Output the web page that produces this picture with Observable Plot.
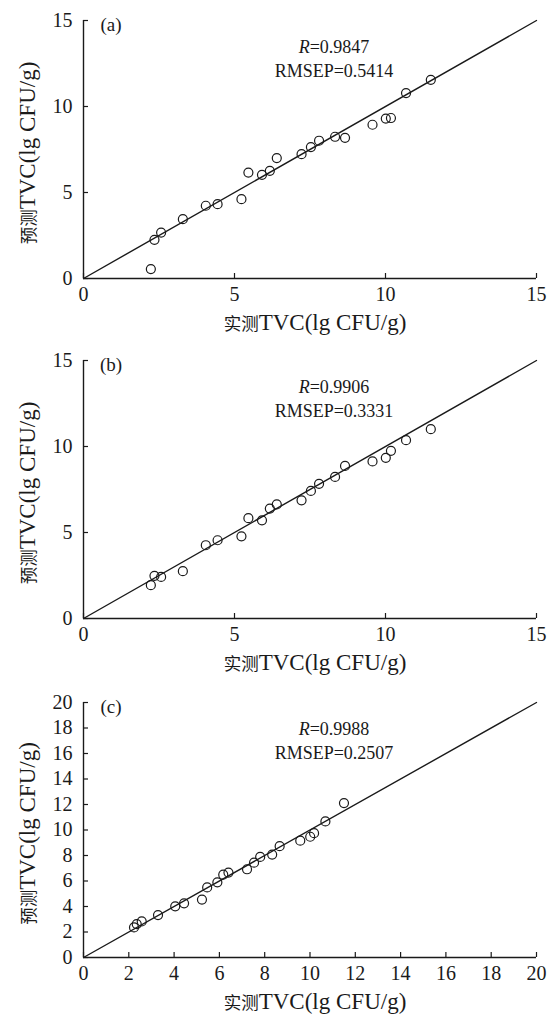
<!DOCTYPE html>
<html><head><meta charset="utf-8">
<script src="https://cdn.jsdelivr.net/npm/d3@7"></script>
<script src="https://cdn.jsdelivr.net/npm/@observablehq/plot@0.6"></script>
<style>
html,body{margin:0;padding:0;background:#fff;}
#chart svg{display:block;}
#chart svg text, #chart svg tspan.lat{font-family:"Liberation Serif","DejaVu Serif",serif;}
#chart svg tspan.cjk{font-family:"Noto Sans CJK SC",sans-serif;}
</style></head><body><div id="chart"></div>
<script>
// measured (x) values shared by the three models
const measured   = [2.23, 2.35, 2.57, 3.29, 4.05, 4.44, 5.23, 5.46, 5.91, 6.17, 6.40, 7.22, 7.53, 7.80, 8.33, 8.66, 9.57, 10.01, 10.18, 10.68, 11.50];
// predicted (y) values per panel
const predictedA = [0.55, 2.25, 2.67, 3.45, 4.23, 4.32, 4.61, 6.16, 6.03, 6.26, 7.00, 7.23, 7.64, 8.01, 8.24, 8.18, 8.94, 9.30, 9.33, 10.78, 11.55];
const predictedB = [1.94, 2.48, 2.42, 2.75, 4.26, 4.55, 4.78, 5.83, 5.71, 6.39, 6.63, 6.87, 7.42, 7.83, 8.23, 8.87, 9.13, 9.34, 9.75, 10.37, 11.01];
const predictedC = [2.36, 2.62, 2.83, 3.33, 4.01, 4.25, 4.54, 5.50, 5.90, 6.50, 6.66, 6.92, 7.44, 7.89, 8.07, 8.73, 9.16, 9.47, 9.75, 10.67, 12.11];

const panelLabels = ["(a)", "(b)", "(c)"];
const rValues     = ["0.9847", "0.9906", "0.9988"];
const rmsepValues = ["0.5414", "0.3331", "0.2507"];

const ticksAB  = [0, 5, 10, 15];
const ticksC   = [0, 2, 4, 6, 8, 10, 12, 14, 16, 18, 20];
const domainAB = [0, 15];
const domainC  = [0, 20];

const xLabelCn = "实测";
const yLabelCn = "预测";
const unitLabel = "TVC(lg CFU/g)";

const panels = [
  {pred: predictedA, domain: domainAB, ticks: ticksAB, height: 335, marginTop: 20, marginBottom: 57},
  {pred: predictedB, domain: domainAB, ticks: ticksAB, height: 340, marginTop: 25, marginBottom: 57},
  {pred: predictedC, domain: domainC,  ticks: ticksC,  height: 341, marginTop: 27, marginBottom: 59}
];

const W = 554, ML = 83, MR = 18;
const ink = "#1a1a1a";
const serif = "Liberation Serif, DejaVu Serif, serif";
const container = document.getElementById("chart");

panels.forEach((cfg, i) => {
  const pts = measured.map((m, j) => ({m, p: cfg.pred[j]}));
  const diag = cfg.domain.map(v => ({v}));
  const plotH = cfg.height - cfg.marginTop - cfg.marginBottom;
  const svg = Plot.plot({
    width: W, height: cfg.height,
    marginLeft: ML, marginRight: MR, marginTop: cfg.marginTop, marginBottom: cfg.marginBottom,
    x: {domain: cfg.domain, label: null},
    y: {domain: cfg.domain, label: null},
    style: {fontFamily: serif, fontSize: "20px", color: ink, background: "#fff", overflow: "visible"},
    marks: [
      Plot.axisX(cfg.ticks, {tickSize: 5, dy: -5, tickFormat: () => "", stroke: ink, strokeWidth: 1.2}),
      Plot.axisY(cfg.ticks, {tickSize: 5, dx: 5, tickFormat: () => "", stroke: ink, strokeWidth: 1.2}),
      Plot.axisX(cfg.ticks, {tickSize: 0, tickPadding: 8, fontSize: 20, fill: ink}),
      Plot.axisY(cfg.ticks, {tickSize: 0, tickPadding: 11, fontSize: 20, fill: ink}),
      Plot.ruleX([cfg.domain[0]], {stroke: ink, strokeWidth: 1.4}),
      Plot.ruleY([cfg.domain[0]], {stroke: ink, strokeWidth: 1.4}),
      Plot.line(diag, {x: "v", y: "v", stroke: ink, strokeWidth: 1.4}),
      Plot.dot(pts, {x: "m", y: "p", r: 4.5, stroke: ink, strokeWidth: 1.2, fill: "none"})
    ]
  });
  svg.setAttribute("font-family", serif);
  const s = d3.select(svg);
  const mt = cfg.marginTop;

  // panel tag
  s.append("text").attr("x", ML + 28).attr("y", mt + 11)
    .attr("font-size", 19).attr("fill", ink)
    .text(panelLabels[i]);

  // statistics
  const r = s.append("text").attr("x", 334).attr("y", mt + 33)
    .attr("text-anchor", "middle").attr("font-size", 18).attr("fill", ink);
  r.append("tspan").attr("font-style", "italic").text("R");
  r.append("tspan").text("=" + rValues[i]);
  s.append("text").attr("x", 334).attr("y", mt + 57)
    .attr("text-anchor", "middle").attr("font-size", 18).attr("fill", ink)
    .text("RMSEP=" + rmsepValues[i]);

  // x label
  const xl = s.append("text").attr("x", 315).attr("y", mt + plotH + 52)
    .attr("text-anchor", "middle").attr("fill", ink);
  xl.append("tspan").attr("class", "cjk").attr("font-size", 17.5).text(xLabelCn);
  xl.append("tspan").attr("class", "lat").attr("font-size", 23).text(unitLabel);

  // y label
  const yl = s.append("text")
    .attr("transform", `translate(27,${mt + plotH / 2 + 4}) rotate(-90)`)
    .attr("x", 0).attr("y", 7.5)
    .attr("text-anchor", "middle").attr("fill", ink);
  yl.append("tspan").attr("class", "cjk").attr("font-size", 17.5).text(yLabelCn);
  yl.append("tspan").attr("class", "lat").attr("font-size", 23).text(unitLabel);

  container.appendChild(svg);
});
</script>
</body></html>
